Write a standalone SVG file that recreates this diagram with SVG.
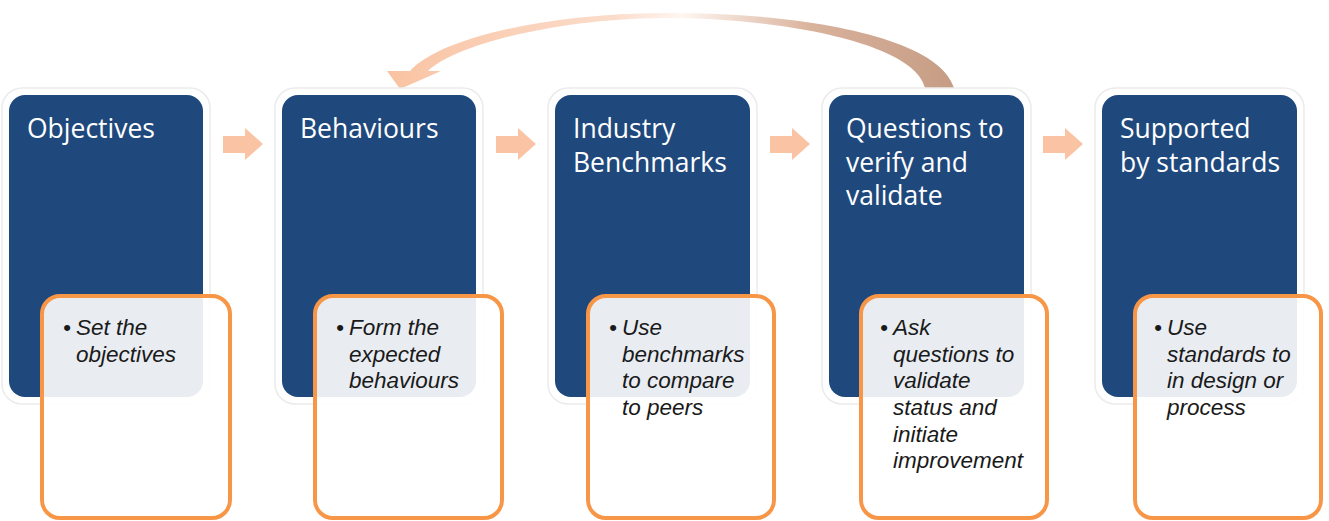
<svg xmlns="http://www.w3.org/2000/svg" width="1329" height="521" viewBox="0 0 1329 521">
<style>
.card{fill:#ffffff;stroke:#ebebeb;stroke-width:1.5}
.blue{fill:#1F497D}
.note{fill:#ffffff;fill-opacity:0.9;stroke:#F79646;stroke-width:4}
.title{font-family:"Open Sans","Liberation Sans",sans-serif;font-size:26.5px;fill:#ffffff}
.bul{font-family:"Liberation Sans",Arial,sans-serif;font-size:22.5px;font-style:italic;fill:#1a1a1a}
.chev{fill:#FAC4A4}
</style>
<defs>
<linearGradient id="arcg" x1="387" y1="0" x2="954" y2="0" gradientUnits="userSpaceOnUse">
<stop offset="0" stop-color="#F9C3A2"/>
<stop offset="0.4" stop-color="#FBDCCB"/>
<stop offset="0.52" stop-color="#FFF6F1"/>
<stop offset="0.75" stop-color="#D9B29C"/>
<stop offset="1" stop-color="#C69C84"/>
</linearGradient>
</defs>
<rect width="1329" height="521" fill="#ffffff"/>
<g id="connectors">
<path d="M954 88 C938 34 790 12 662 13 C545 14 440 38 410 71 L387 71 L400 89 L441 71 L428 71 C455 45 555 19 662 18 C775 17 915 42 925 88 Z" fill="url(#arcg)"/>
<path class="chev" d="M223 136 H245 V128 L263 144 L245 160 V153 H223 Z"/>
<path class="chev" d="M496 136 H518 V128 L536 144 L518 160 V153 H496 Z"/>
<path class="chev" d="M770 136 H792 V128 L810 144 L792 160 V153 H770 Z"/>
<path class="chev" d="M1043 136 H1065 V128 L1083 144 L1065 160 V153 H1043 Z"/>
</g>
<g id="node-objectives">
<rect class="card" x="2" y="88" width="208" height="316" rx="20"/>
<rect class="blue" x="9" y="95" width="194" height="302" rx="16"/>
<text class="title" x="27" y="138">Objectives</text>
<rect class="note" x="42" y="296" width="188" height="222" rx="18"/>
<text class="bul"><tspan x="63" y="335">•</tspan><tspan x="76" y="335">Set the</tspan><tspan x="76" y="362">objectives</tspan></text>
</g>
<g id="node-behaviours">
<rect class="card" x="275" y="88" width="208" height="316" rx="20"/>
<rect class="blue" x="282" y="95" width="194" height="302" rx="16"/>
<text class="title" x="300" y="138">Behaviours</text>
<rect class="note" x="315" y="296" width="187" height="222" rx="18"/>
<text class="bul"><tspan x="336" y="335">•</tspan><tspan x="349" y="335">Form the</tspan><tspan x="349" y="362">expected</tspan><tspan x="349" y="388">behaviours</tspan></text>
</g>
<g id="node-benchmarks">
<rect class="card" x="548" y="88" width="209" height="316" rx="20"/>
<rect class="blue" x="555" y="95" width="195" height="302" rx="16"/>
<text class="title"><tspan x="573" y="138">Industry</tspan><tspan x="573" y="172">Benchmarks</tspan></text>
<rect class="note" x="588" y="296" width="186" height="222" rx="18"/>
<text class="bul"><tspan x="609" y="335">•</tspan><tspan x="622" y="335">Use</tspan><tspan x="622" y="362">benchmarks</tspan><tspan x="622" y="388">to compare</tspan><tspan x="622" y="415">to peers</tspan></text>
</g>
<g id="node-questions">
<rect class="card" x="822" y="88" width="209" height="316" rx="20"/>
<rect class="blue" x="829" y="95" width="195" height="302" rx="16"/>
<text class="title"><tspan x="846" y="138">Questions to</tspan><tspan x="846" y="172">verify and</tspan><tspan x="846" y="205">validate</tspan></text>
<rect class="note" x="861" y="296" width="186" height="222" rx="18"/>
<text class="bul"><tspan x="880" y="335">•</tspan><tspan x="893" y="335">Ask</tspan><tspan x="893" y="362">questions to</tspan><tspan x="893" y="388">validate</tspan><tspan x="893" y="415">status and</tspan><tspan x="893" y="442">initiate</tspan><tspan x="893" y="468">improvement</tspan></text>
</g>
<g id="node-standards">
<rect class="card" x="1095" y="88" width="209" height="316" rx="20"/>
<rect class="blue" x="1102" y="95" width="195" height="302" rx="16"/>
<text class="title"><tspan x="1120" y="138">Supported</tspan><tspan x="1120" y="172">by standards</tspan></text>
<rect class="note" x="1135" y="296" width="186" height="222" rx="18"/>
<text class="bul"><tspan x="1154" y="335">•</tspan><tspan x="1167" y="335">Use</tspan><tspan x="1167" y="362">standards to</tspan><tspan x="1167" y="388">in design or</tspan><tspan x="1167" y="415">process</tspan></text>
</g>
</svg>
